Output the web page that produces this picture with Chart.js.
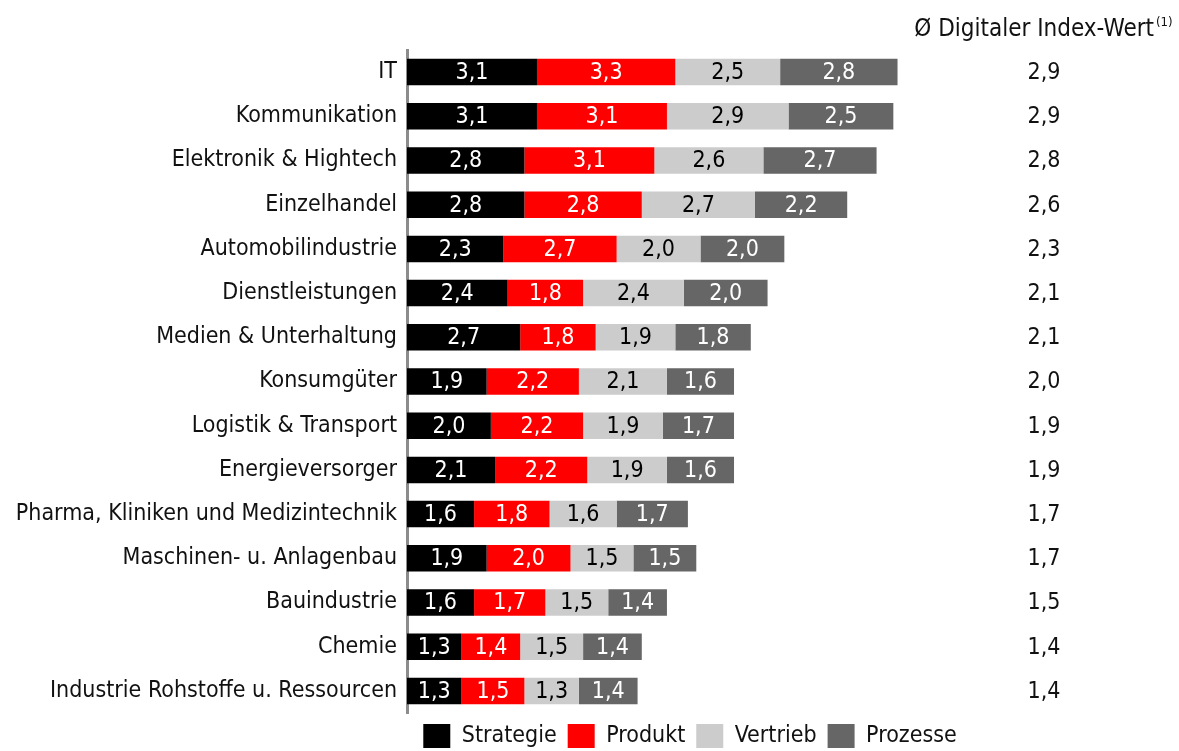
<!DOCTYPE html>
<html>
<head>
<meta charset="utf-8">
<script src="https://cdn.jsdelivr.net/npm/chart.js@4"></script>
<style>
  html, body { margin: 0; padding: 0; background: #fff; }
  #wrap { width: 1179px; height: 751px; }
</style>
</head>
<body>
<div id="wrap"><canvas id="index_chart"></canvas></div>
<script>
const branchen = ['IT', 'Kommunikation', 'Elektronik & Hightech', 'Einzelhandel', 'Automobilindustrie',
  'Dienstleistungen', 'Medien & Unterhaltung', 'Konsumgüter', 'Logistik & Transport', 'Energieversorger',
  'Pharma, Kliniken und Medizintechnik', 'Maschinen- u. Anlagenbau', 'Bauindustrie', 'Chemie',
  'Industrie Rohstoffe u. Ressourcen']
const strategie = [3.1, 3.1, 2.8, 2.8, 2.3, 2.4, 2.7, 1.9, 2.0, 2.1, 1.6, 1.9, 1.6, 1.3, 1.3]
const produkt = [3.3, 3.1, 3.1, 2.8, 2.7, 1.8, 1.8, 2.2, 2.2, 2.2, 1.8, 2.0, 1.7, 1.4, 1.5]
const vertrieb = [2.5, 2.9, 2.6, 2.7, 2.0, 2.4, 1.9, 2.1, 1.9, 1.9, 1.6, 1.5, 1.5, 1.5, 1.3]
const prozesse = [2.8, 2.5, 2.7, 2.2, 2.0, 2.0, 1.8, 1.6, 1.7, 1.6, 1.7, 1.5, 1.4, 1.4, 1.4]
const indexWert = [2.9, 2.9, 2.8, 2.6, 2.3, 2.1, 2.1, 2.0, 1.9, 1.9, 1.7, 1.7, 1.5, 1.4, 1.4]
const spaltenTitel = 'Ø Digitaler Index-Wert'
const fussnote = '(1)'

const FONT = '"DejaVu Sans Condensed", "Liberation Sans Narrow", sans-serif'
const komma = v => v.toFixed(1).replace('.', ',')

// Zahlen mittig in die Balken schreiben
const barLabels = {
  id: 'barLabels',
  afterDatasetsDraw(chart) {
    const ctx = chart.ctx
    ctx.save()
    ctx.font = '23px ' + FONT
    ctx.textAlign = 'center'
    ctx.textBaseline = 'middle'
    chart.data.datasets.forEach((ds, i) => {
      chart.getDatasetMeta(i).data.forEach((bar, j) => {
        const p = bar.getProps(['x', 'y', 'base'], true)
        ctx.fillStyle = ds.labelColor
        ctx.fillText(komma(ds.data[j]), (p.x + p.base) / 2, p.y + 1)
      })
    })
    ctx.restore()
  }
}

// Spalte mit dem Durchschnittswert rechts, samt Ueberschrift
const avgColumn = {
  id: 'avgColumn',
  afterDraw(chart) {
    const ctx = chart.ctx
    const y = chart.scales.y
    ctx.save()
    ctx.fillStyle = '#111'
    ctx.textBaseline = 'middle'
    ctx.font = '24px ' + FONT
    ctx.textAlign = 'right'
    ctx.fillText(spaltenTitel, 1154, 30)
    ctx.font = '13px ' + FONT
    ctx.textAlign = 'left'
    ctx.fillText(fussnote, 1156, 23)
    ctx.font = '23px ' + FONT
    ctx.textAlign = 'center'
    indexWert.forEach((v, i) => {
      ctx.fillText(komma(v), 1044, y.getPixelForValue(i) + 1)
    })
    ctx.restore()
  }
}

new Chart(document.getElementById('index_chart'), {
  type: 'bar',
  data: {
    labels: branchen,
    datasets: [
      { label: 'Strategie', data: strategie, backgroundColor: '#000000', labelColor: '#ffffff' },
      { label: 'Produkt', data: produkt, backgroundColor: '#ff0000', labelColor: '#ffffff' },
      { label: 'Vertrieb', data: vertrieb, backgroundColor: '#cccccc', labelColor: '#000000' },
      { label: 'Prozesse', data: prozesse, backgroundColor: '#666666', labelColor: '#ffffff' }
    ]
  },
  options: {
    indexAxis: 'y',
    responsive: true,
    maintainAspectRatio: false,
    animation: false,
    datasets: {
      bar: { categoryPercentage: 1, barPercentage: 0.6, borderWidth: 0 }
    },
    layout: { padding: { left: 0, right: 206, top: 50, bottom: -7 } },
    scales: {
      x: { stacked: true, display: false, min: 0, max: 13.5 },
      y: {
        stacked: true,
        grid: { display: false, drawTicks: false },
        border: { display: true, color: '#8c8c8c', width: 3 },
        ticks: { color: '#111', padding: 10, font: { family: FONT, size: 23 } },
        afterFit(scale) { scale.width = 407 }
      }
    },
    plugins: {
      legend: {
        position: 'bottom',
        fullSize: false,
        labels: {
          color: '#111',
          boxWidth: 27,
          boxHeight: 24,
          padding: 11,
          font: { family: FONT, size: 23 }
        }
      },
      tooltip: { enabled: false }
    }
  },
  plugins: [barLabels, avgColumn]
})
</script>
</body>
</html>
